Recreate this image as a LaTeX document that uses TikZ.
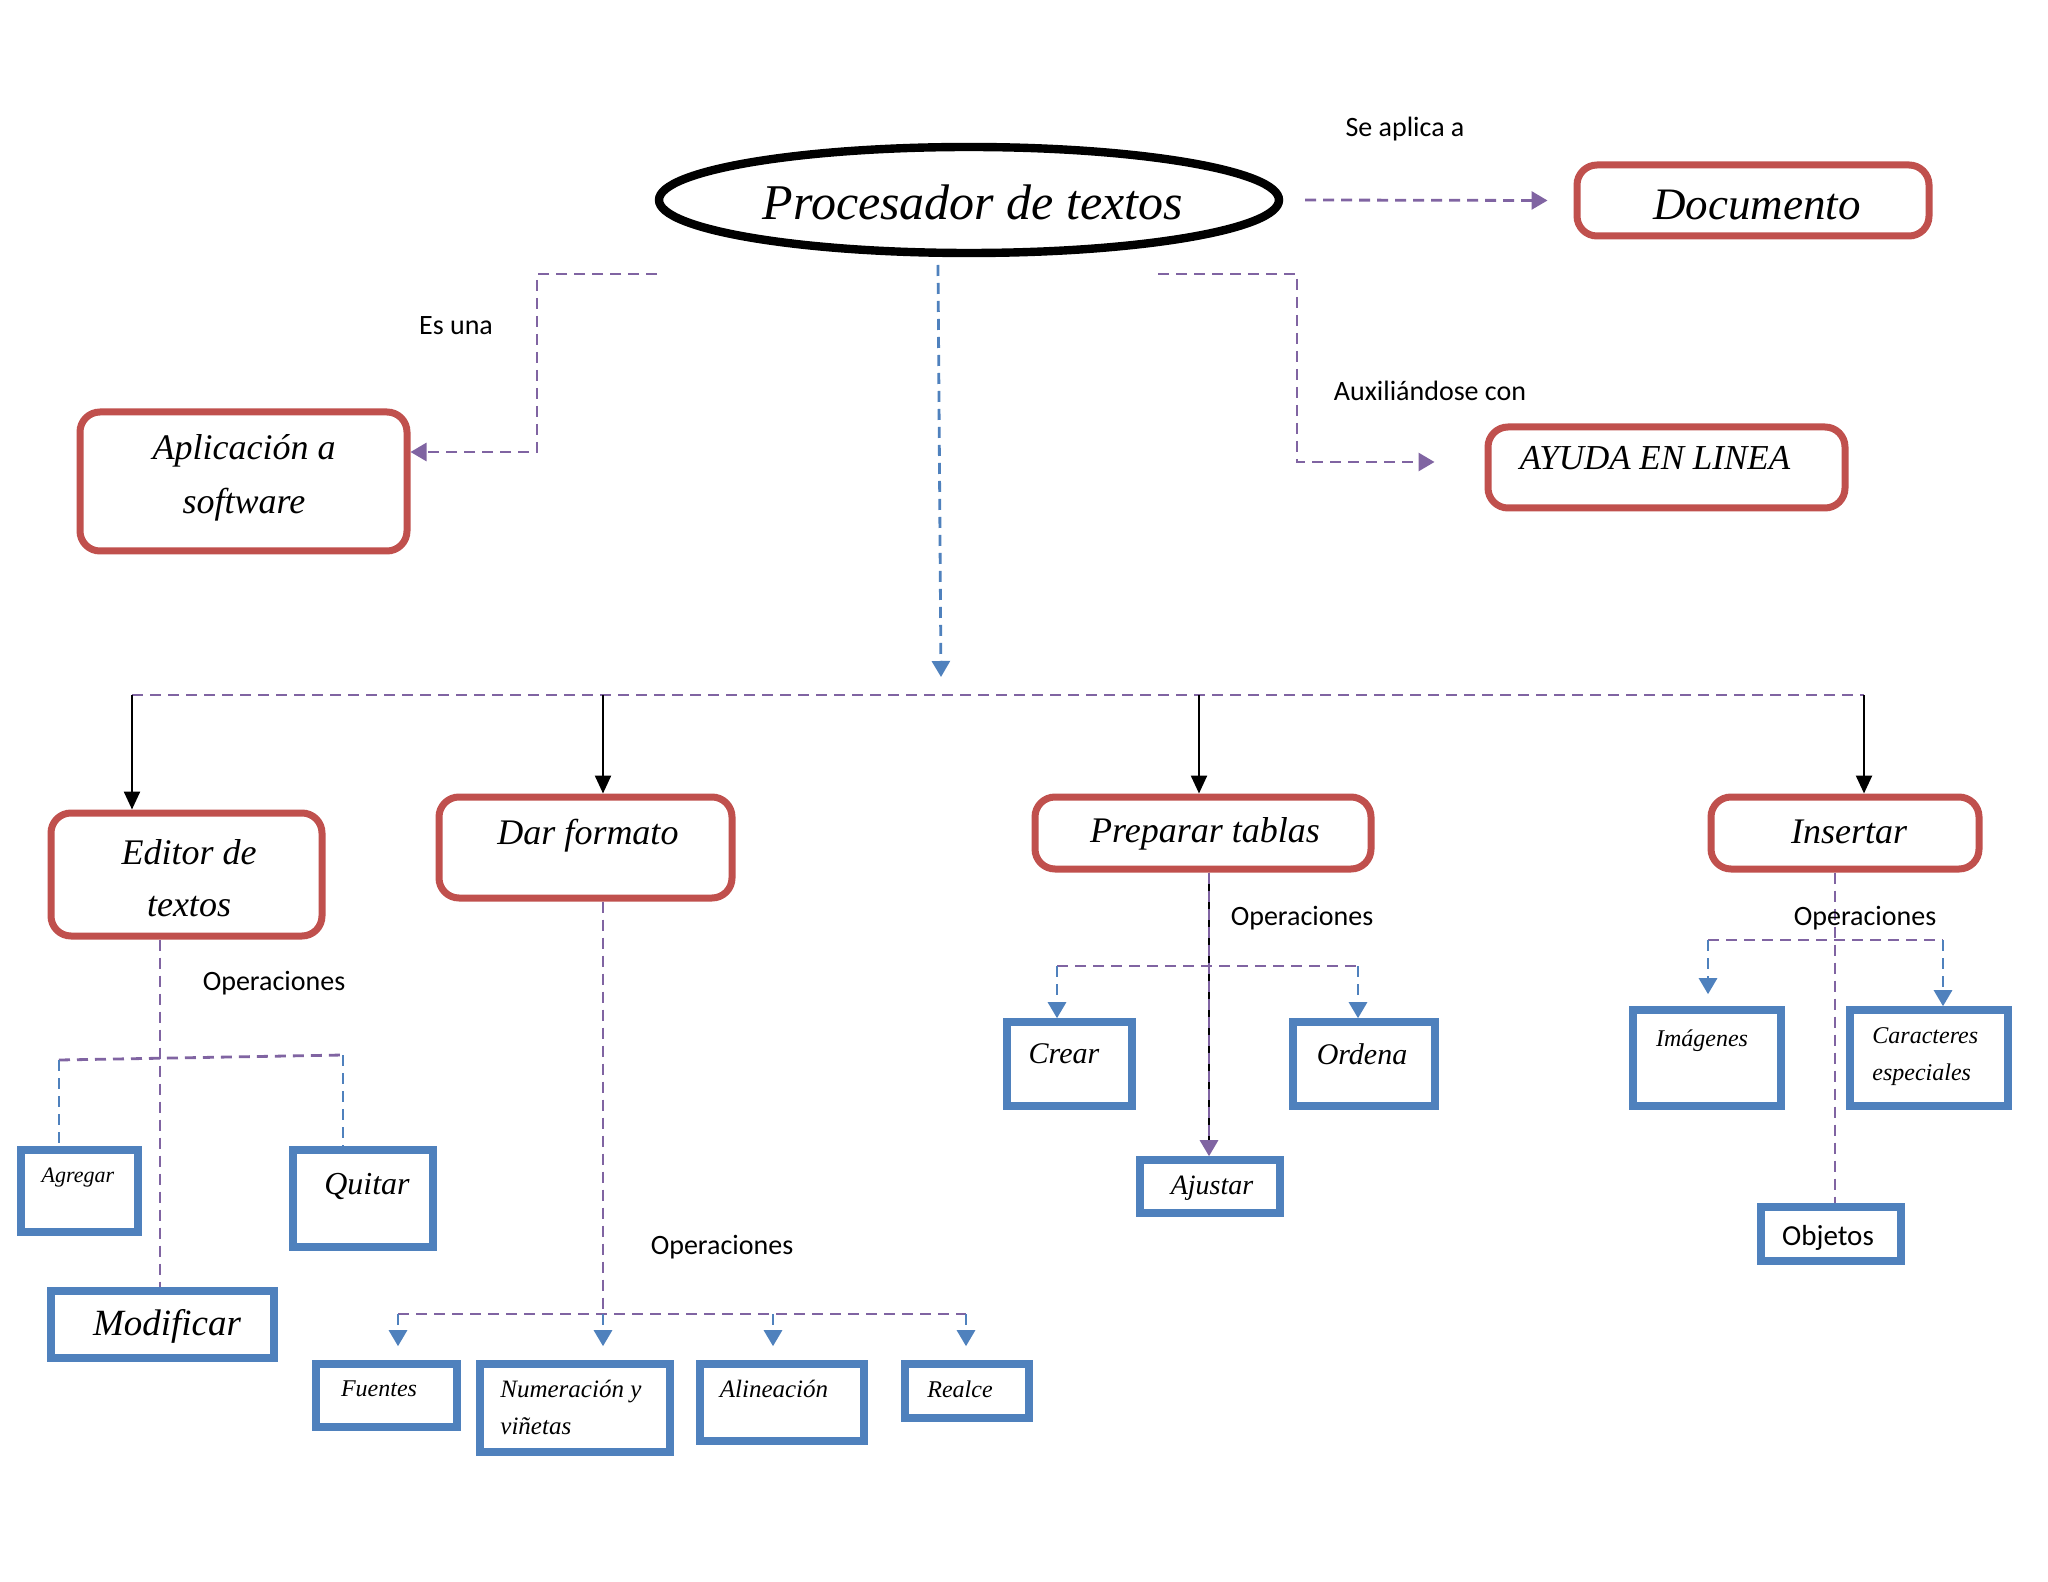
\documentclass[tikz,border=0pt]{standalone}
\usepackage{fontspec}
\setmainfont{Liberation Serif}
\newfontfamily\calibri{Carlito}
\usetikzlibrary{shapes.geometric,arrows.meta}
\definecolor{myred}{HTML}{C0504D}
\definecolor{myblue}{HTML}{4F81BD}
\definecolor{mypurple}{HTML}{8064A2}
\tikzset{
  redbox/.style={draw=myred, line width=3.5pt, rounded corners=10pt, fill=white, inner sep=0pt},
  bluebox/.style={draw=myblue, line width=3.8pt, fill=white, inner sep=0pt},
  pdash/.style={draw=mypurple, line width=1.4pt, dash pattern=on 5.5pt off 3.5pt},
  bdash/.style={draw=myblue, line width=1.4pt, dash pattern=on 5.5pt off 3.5pt},
  tipx/.style={-{Triangle[width=9pt,length=8pt]}},
  barrow/.style={draw=black, line width=1.2pt, -{Triangle[width=8pt,length=9pt]}},
  lbl/.style={font=\calibri\fontsize{14}{17}\selectfont, inner sep=0pt},
  scr/.style={inner sep=0pt, font=\itshape\fontsize{#1}{#1}\selectfont},
  scr/.default=18
}
\begin{document}
\begin{tikzpicture}[x=0.5pt,y=-0.5pt]
\useasboundingbox (0,0) rectangle (2048,1582);
\fill[white] (0,0) rectangle (2048,1582);

% ---------- main nodes ----------
\node[ellipse, draw=black, line width=4.2pt, minimum width=310pt, minimum height=53pt, inner sep=0pt] (pe) at (969,200) {};
\node[scr=25] (tpe) at (973,202) {Procesador de textos};

\node[redbox, minimum width=176pt, minimum height=35.5pt] (doc) at (1753,200.5) {};
\node[scr=22.5] (tdoc) at (1757,205) {Documento};

\node[redbox, minimum width=163.5pt, minimum height=69.5pt] (app) at (243.5,481.5) {};
\node[inner sep=0pt, align=center, font=\itshape\fontsize{18}{27}\selectfont] (tapp) at (244,478) {Aplicación a\\software};

\node[redbox, minimum width=178.5pt, minimum height=40.5pt] (ayuda) at (1666.5,467.5) {};
\node[scr=17.5] (tayuda) at (1655,458) {AYUDA EN LINEA};

\node[redbox, minimum width=135.5pt, minimum height=61.5pt] (editor) at (186.5,874.5) {};
\node[inner sep=0pt, align=center, font=\itshape\fontsize{18}{26}\selectfont] (teditor) at (189,878) {Editor de\\textos};

\node[redbox, minimum width=146.5pt, minimum height=50.5pt] (dar) at (585.5,847.5) {};
\node[scr=18] (tdar) at (588,836) {Dar formato};

\node[redbox, minimum width=168pt, minimum height=36pt] (prep) at (1203,833) {};
\node[scr=18] (tprep) at (1205,834) {Preparar tablas};

\node[redbox, minimum width=134pt, minimum height=36pt] (ins) at (1845,833) {};
\node[scr=18] (tins) at (1849,832) {Insertar};

% ---------- blue boxes ----------
\node[bluebox, minimum width=58.5pt, minimum height=41pt] (agregar) at (79.5,1191) {};
\node[scr=11] (tagregar) at (78,1178) {Agregar};
\node[bluebox, minimum width=70pt, minimum height=48.5pt] (quitar) at (363,1198.5) {};
\node[scr=16] (tquitar) at (367,1186) {Quitar};
\node[bluebox, minimum width=111.5pt, minimum height=33.5pt] (modif) at (162.5,1324.5) {};
\node[scr=18.5] (tmodif) at (167,1326) {Modificar};

\node[bluebox, minimum width=70.5pt, minimum height=31.5pt] (fuentes) at (386.5,1395.5) {};
\node[scr=12] (tfuentes) at (379,1389) {Fuentes};
\node[bluebox, minimum width=95pt, minimum height=44pt] (numer) at (575,1408) {};
\node[inner sep=0pt, align=left, anchor=west, font=\itshape\fontsize{12.5}{18.5}\selectfont] (tnumer) at (500,1407) {Numeración y\\viñetas};
\node[bluebox, minimum width=82pt, minimum height=38.5pt] (alin) at (782,1402.5) {};
\node[scr=12.5] (talin) at (774,1389) {Alineación};
\node[bluebox, minimum width=62pt, minimum height=27pt] (realce) at (967,1391) {};
\node[scr=12] (trealce) at (960,1389) {Realce};

\node[bluebox, minimum width=62.5pt, minimum height=42pt] (crear) at (1069.5,1064) {};
\node[scr=15] (tcrear) at (1064,1054) {Crear};
\node[bluebox, minimum width=71pt, minimum height=42pt] (ordena) at (1364,1064) {};
\node[scr=15] (tordena) at (1362,1054) {Ordena};
\node[bluebox, minimum width=70pt, minimum height=26.5pt] (ajustar) at (1210,1186.5) {};
\node[scr=14] (tajustar) at (1212,1188) {Ajustar};

\node[bluebox, minimum width=74pt, minimum height=48pt] (imag) at (1707,1058) {};
\node[scr=12] (timag) at (1702,1041) {Imágenes};
\node[bluebox, minimum width=79pt, minimum height=48pt] (carac) at (1929,1058) {};
\node[inner sep=0pt, align=left, anchor=west, font=\itshape\fontsize{12}{18.5}\selectfont] (tcarac) at (1872,1057) {Caracteres\\especiales};
\node[bluebox, minimum width=70pt, minimum height=27pt] (objetos) at (1831,1234) {};
\node[lbl, font=\calibri\fontsize{14.5}{17}\selectfont] (tobjetos) at (1828,1238) {Objetos};

% ---------- labels ----------
\node[lbl] (lse) at (1405,129) {Se aplica a};
\node[lbl] (les) at (456,326) {Es una};
\node[lbl] (laux) at (1430,391) {Auxiliándose con};
\node[lbl] (lop1) at (274,983) {Operaciones};
\node[lbl] (lop2) at (722,1247) {Operaciones};
\node[lbl] (lop3) at (1302,918) {Operaciones};

% ---------- top connectors ----------
\draw[pdash,tipx] ([xshift=11pt]pe.east) -- ([xshift=-13pt]doc.west);

\coordinate (l0) at (657,274);
\coordinate (l1) at (537,274);
\coordinate (l2) at (537,452);
\draw[pdash,tipx] (l0) -- (l1) -- (l2) -- (l2 -| app.east);

\coordinate (r0) at (1158,274);
\coordinate (r1) at (1297,274);
\coordinate (r2) at (1297,462);
\draw[pdash,tipx,shorten >=25pt] (r0) -- (r1) -- (r2) -- (r2 -| ayuda.west);

\coordinate (d0) at (938,265);
\coordinate (d1) at (941,677);
\draw[bdash,tipx] (d0) -- (d1);

% ---------- bus ----------
\coordinate (bus1) at (132,695);
\coordinate (bus2) at (603,695);
\coordinate (bus3) at (1199,695);
\coordinate (bus4) at (1864,695);
\draw[pdash] (bus1) -- (bus4);
\draw[barrow] (bus1) -- (bus1 |- editor.north);
\draw[barrow] (bus2) -- (bus2 |- dar.north);
\draw[barrow] (bus3) -- (bus3 |- prep.north);
\draw[barrow] (bus4) -- (bus4 |- ins.north);

% ---------- Editor de textos ----------
\coordinate (e1) at (160,1058);
\draw[pdash] (editor.south -| e1) -- (modif.north -| e1);
\coordinate (ea) at (59,1060);
\coordinate (eb) at (343,1055);
\draw[pdash] (ea) -- (eb);
\draw[bdash] (ea) -- (ea |- agregar.north);
\draw[bdash] (eb) -- (eb |- quitar.north);

% ---------- Dar formato ----------
\coordinate (f0) at (603,1314);
\coordinate (fa) at (398,1314);
\coordinate (fc) at (773,1314);
\coordinate (fd) at (966,1314);
\draw[pdash] (dar.south -| f0) -- (f0);
\draw[pdash] (fa) -- (fd);
\draw[bdash,tipx,shorten >=7pt] (fa) -- (fa |- fuentes.north);
\draw[bdash,tipx,shorten >=7pt] (f0) -- (f0 |- numer.north);
\draw[bdash,tipx,shorten >=7pt] (fc) -- (fc |- alin.north);
\draw[bdash,tipx,shorten >=7pt] (fd) -- (fd |- realce.north);

% ---------- Preparar tablas ----------
\coordinate (p0) at (1209,966);
\draw[black, line width=0.9pt] (prep.south -| p0) -- ([yshift=3pt]ajustar.north -| p0);
\draw[pdash,tipx] (prep.south -| p0) -- (ajustar.north -| p0);
\coordinate (pa) at (1057,966);
\coordinate (pb) at (1358,966);
\draw[pdash] (pa) -- (pb);
\draw[bdash,tipx] (pa) -- (pa |- crear.north);
\draw[bdash,tipx] (pb) -- (pb |- ordena.north);

% ---------- Insertar ----------
\coordinate (i0) at (1835,940);
\draw[pdash] (ins.south -| i0) -- (objetos.north -| i0);
\coordinate (ia) at (1708,940);
\coordinate (ib) at (1943,940);
\draw[pdash] (ia) -- (ib);
\draw[bdash,tipx,shorten >=6pt] (ia) -- (ia |- imag.north);
\draw[bdash,tipx] (ib) -- (ib |- carac.north);
\node[lbl] (lop4) at (1865,918) {Operaciones};
\end{tikzpicture}
\end{document}
